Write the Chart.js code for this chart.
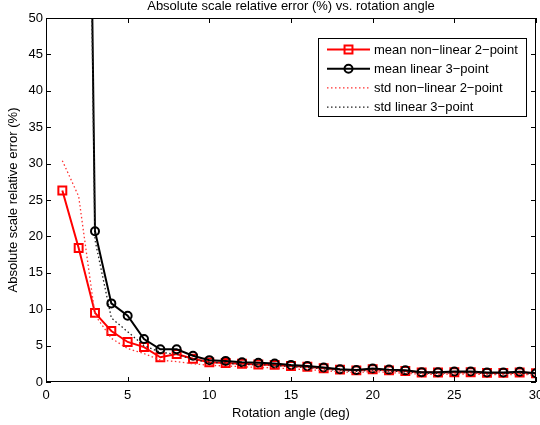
<!DOCTYPE html>
<html><head><meta charset="utf-8">
<script src="https://cdn.jsdelivr.net/npm/chart.js@4"></script>
<style>html,body{margin:0;padding:0;background:#fff}canvas{display:block}</style>
</head><body>
<canvas id="c" width="540" height="425"></canvas>
<script>
const chartTitle = 'Absolute scale relative error (%) vs. rotation angle';
const xTitle = 'Rotation angle (deg)';
const yTitle = 'Absolute scale relative error (%)';
const seriesLabels = ['mean non\u2212linear 2\u2212point', 'mean linear 3\u2212point', 'std non\u2212linear 2\u2212point', 'std linear 3\u2212point'];
const angles = [1,2,3,4,5,6,7,8,9,10,11,12,13,14,15,16,17,18,19,20,21,22,23,24,25,26,27,28,29,30];
const meanNonLinear2 = [26.3,18.4,9.5,7.0,5.5,4.8,3.4,3.85,3.2,2.7,2.6,2.5,2.4,2.35,2.2,2.1,1.9,1.7,1.6,1.75,1.6,1.5,1.3,1.3,1.35,1.35,1.25,1.25,1.3,1.2];
const meanLinear3 = [600,200,20.7,10.8,9.1,5.9,4.5,4.5,3.6,3.0,2.9,2.7,2.65,2.55,2.35,2.2,2.0,1.75,1.65,1.85,1.7,1.6,1.35,1.35,1.45,1.45,1.3,1.3,1.4,1.2];
const stdNonLinear2 = [30.4,25.5,9.2,6.0,4.6,3.9,3.0,2.8,2.5,2.3,2.2,2.1,2.0,1.95,1.8,1.7,1.55,1.4,1.3,1.45,1.3,1.2,1.05,1.05,1.1,1.1,1.0,1.0,1.05,0.95];
const stdLinear3 = [560,185,19.5,8.8,6.9,5.0,4.1,3.8,3.1,2.7,2.6,2.4,2.4,2.3,2.1,2.0,1.8,1.55,1.45,1.65,1.5,1.4,1.2,1.2,1.3,1.3,1.15,1.15,1.25,1.05];
const xTicks = [0,5,10,15,20,25,30];
const yTicks = [0,5,10,15,20,25,30,35,40,45,50];

const FONT = '"Liberation Sans", Arial, Helvetica, sans-serif';
const pts = ys => angles.map((a,i)=>({x:a, y:ys[i]}));

const framePlugin = {
  id: 'frame',
  afterDraw(chart) {
    const {ctx, chartArea: a, scales} = chart;
    ctx.save();
    ctx.strokeStyle = '#000'; ctx.lineWidth = 1; ctx.setLineDash([]);
    ctx.strokeRect(a.left + 0.5, a.top + 0.5, a.right - a.left - 1, a.bottom - a.top - 1);
    ctx.beginPath();
    xTicks.forEach(v => {
      const px = Math.round(scales.x.getPixelForValue(v)) + 0.5;
      ctx.moveTo(px, a.bottom); ctx.lineTo(px, a.bottom - 5);
      ctx.moveTo(px, a.top); ctx.lineTo(px, a.top + 5);
    });
    yTicks.forEach(v => {
      const py = Math.round(scales.y.getPixelForValue(v)) + 0.5;
      ctx.moveTo(a.left, py); ctx.lineTo(a.left + 5, py);
      ctx.moveTo(a.right, py); ctx.lineTo(a.right - 5, py);
    });
    ctx.stroke();
    // title
    ctx.fillStyle = '#000';
    ctx.font = '13px ' + FONT;
    ctx.textAlign = 'center'; ctx.textBaseline = 'alphabetic';
    ctx.fillText(chartTitle, (a.left + a.right) / 2, 10);
    // legend
    const x0 = 318.5, y0 = 38.5, w = 208, h = 78;
    ctx.fillStyle = '#fff'; ctx.fillRect(x0, y0, w, h);
    ctx.strokeStyle = '#000'; ctx.strokeRect(x0, y0, w, h);
    chart.data.datasets.forEach((ds, i) => {
      const y = 49.5 + i * 19.2;
      ctx.beginPath();
      ctx.setLineDash(ds.borderDash || []);
      ctx.lineWidth = ds.borderWidth; ctx.strokeStyle = ds.borderColor;
      ctx.moveTo(327, y); ctx.lineTo(370, y); ctx.stroke();
      ctx.setLineDash([]);
      if (ds.pointRadius > 0) {
        ctx.fillStyle = 'rgba(0,0,0,0)';
        ctx.strokeStyle = ds.pointBorderColor; ctx.lineWidth = ds.pointBorderWidth;
        Chart.helpers.drawPoint(ctx, {pointStyle: ds.pointStyle, radius: ds.pointRadius, borderWidth: ds.pointBorderWidth, rotation: 0}, 348.5, y);
      }
      ctx.fillStyle = '#000'; ctx.font = '13px ' + FONT;
      ctx.textAlign = 'left'; ctx.textBaseline = 'middle';
      ctx.fillText(ds.label, 374, y + 0.5);
    });
    ctx.restore();
  }
};

new Chart(document.getElementById('c'), {
  type: 'line',
  data: {
    datasets: [
      {label: seriesLabels[0], data: pts(meanNonLinear2), borderColor: '#ff0000', borderWidth: 2,
       pointStyle: 'rect', pointRadius: 5.6, pointBorderWidth: 2, pointBorderColor: '#ff0000',
       pointBackgroundColor: 'rgba(0,0,0,0)', order: 4},
      {label: seriesLabels[1], data: pts(meanLinear3), borderColor: '#000000', borderWidth: 2,
       pointStyle: 'circle', pointRadius: 4, pointBorderWidth: 2, pointBorderColor: '#000000',
       pointBackgroundColor: 'rgba(0,0,0,0)', order: 3},
      {label: seriesLabels[2], data: pts(stdNonLinear2), borderColor: '#ff3030', borderWidth: 1.3,
       borderDash: [1.5, 2.5], pointRadius: 0, order: 2},
      {label: seriesLabels[3], data: pts(stdLinear3), borderColor: '#202020', borderWidth: 1.3,
       borderDash: [1.5, 2.5], pointRadius: 0, order: 1}
    ]
  },
  options: {
    responsive: false, animation: false, devicePixelRatio: 1,
    layout: {autoPadding: false, padding: {left: 0, right: 4, top: 18, bottom: 0}},
    plugins: {legend: {display: false}, tooltip: {enabled: false}, title: {display: false}},
    elements: {line: {tension: 0}},
    scales: {
      x: {
        type: 'linear', min: 0, max: 30,
        afterBuildTicks: s => { s.ticks = xTicks.map(v => ({value: v})); },
        afterFit: s => { s.height = 43; s.paddingLeft = 0; s.paddingRight = 0; },
        grid: {display: false, drawTicks: false},
        border: {display: false},
        ticks: {padding: 6, color: '#000', font: {family: FONT, size: 13}, maxRotation: 0, autoSkip: false},
        title: {display: true, text: xTitle, color: '#000', font: {family: FONT, size: 13}, padding: {top: 0, bottom: 4}}
      },
      y: {
        type: 'linear', min: 0, max: 50,
        afterBuildTicks: s => { s.ticks = yTicks.map(v => ({value: v})); },
        afterFit: s => { s.width = 46; s.paddingTop = 0; s.paddingBottom = 0; },
        grid: {display: false, drawTicks: false},
        border: {display: false},
        ticks: {padding: 3, color: '#000', font: {family: FONT, size: 13}, autoSkip: false},
        title: {display: true, text: yTitle, color: '#000', font: {family: FONT, size: 13}, padding: {top: 6, bottom: 0}}
      }
    }
  },
  plugins: [framePlugin]
});
</script>
</body></html>
